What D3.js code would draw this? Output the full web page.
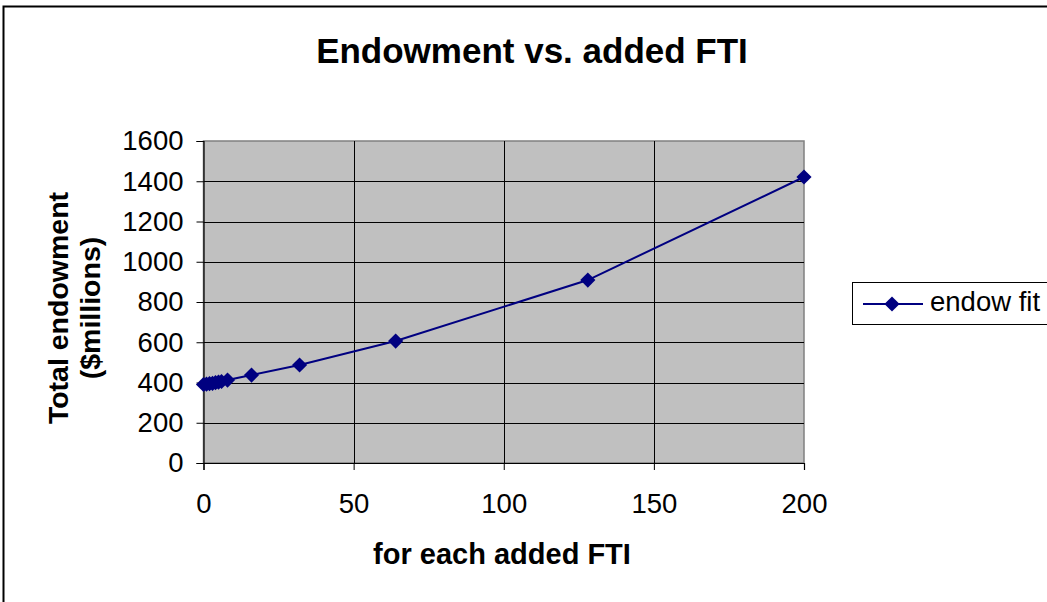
<!DOCTYPE html>
<html><head><meta charset="utf-8">
<script src="https://cdn.jsdelivr.net/npm/d3@7"></script>
<style>body{margin:0;background:#fff}svg{display:block}</style>
</head><body>
<script>
const fti = [0, 1, 2, 3, 4, 5, 6, 8, 16, 32, 64, 128, 200];
const endow = [390, 392, 394, 396, 399, 402, 405, 412, 437, 487, 606, 909, 1421];
const xTicks = [0, 50, 100, 150, 200];
const yTicks = [0, 200, 400, 600, 800, 1000, 1200, 1400, 1600];
const seriesName = "endow fit";

const W = 1047, H = 602;
const svg = d3.select("body").append("svg").attr("width", W).attr("height", H);
svg.append("rect").attr("x", 3.5).attr("y", 6.5).attr("width", W + 10).attr("height", H + 10)
  .attr("fill", "#fff").attr("stroke", "#000").attr("stroke-width", 2);

const L = 203.5, R = 804, T = 141, B = 463;
const x = d3.scaleLinear().domain([0, 200]).range([L, R]);
const y = d3.scaleLinear().domain([0, 1600]).range([B, T]);
const font = "Arial, 'Liberation Sans', sans-serif";

svg.append("rect").attr("x", L).attr("y", T).attr("width", R - L).attr("height", B - T)
  .attr("fill", "#c0c0c0").attr("stroke", "#808080").attr("stroke-width", 1.5);

const g = svg.append("g");
g.selectAll(".hg").data(yTicks.slice(1, -1)).join("line")
  .attr("x1", L).attr("x2", R).attr("y1", d => Math.round(y(d)) + 0.5).attr("y2", d => Math.round(y(d)) + 0.5)
  .attr("stroke", "#000").attr("stroke-width", 1);
g.selectAll(".vg").data(xTicks.slice(1, -1)).join("line")
  .attr("y1", T).attr("y2", B).attr("x1", d => Math.round(x(d)) + 0.5).attr("x2", d => Math.round(x(d)) + 0.5)
  .attr("stroke", "#000").attr("stroke-width", 1);

const yAxis = svg.append("g").attr("transform", `translate(${L},0)`)
  .call(d3.axisLeft(y).tickValues(yTicks).tickFormat(d3.format("d")).tickSize(7).tickPadding(13));
const xAxis = svg.append("g").attr("transform", `translate(0,${B})`)
  .call(d3.axisBottom(x).tickValues(xTicks).tickFormat(d3.format("d")).tickSize(7).tickPadding(23));
[yAxis, xAxis].forEach(a => {
  a.selectAll("path").attr("stroke", "#000").attr("stroke-width", 1.2);
  a.selectAll("line").attr("stroke", "#000");
  a.selectAll("text").attr("font-family", font).attr("font-size", 27.5).attr("fill", "#000");
});

const line = d3.line().x((d, i) => x(fti[i])).y(d => y(d));
svg.append("path").datum(endow).attr("d", line).attr("fill", "none")
  .attr("stroke", "#000080").attr("stroke-width", 2);
const sq = d3.symbol().type(d3.symbolSquare).size(115);
svg.selectAll(".pt").data(endow).join("path")
  .attr("d", sq).attr("transform", (d, i) => `translate(${x(fti[i])},${y(d)}) rotate(45)`)
  .attr("fill", "#000080");

svg.append("text").attr("x", 532).attr("y", 63).attr("text-anchor", "middle")
  .attr("font-family", font).attr("font-weight", "bold").attr("font-size", 35).text("Endowment vs. added FTI");
svg.append("text").attr("x", 502).attr("y", 564).attr("text-anchor", "middle")
  .attr("font-family", font).attr("font-weight", "bold").attr("font-size", 29).text("for each added FTI");
const yl = svg.append("text").attr("transform", "translate(0,308) rotate(-90)").attr("text-anchor", "middle")
  .attr("font-family", font).attr("font-weight", "bold").attr("font-size", 28.5);
yl.append("tspan").attr("x", 0).attr("y", 68).text("Total endowment");
yl.append("tspan").attr("x", 0).attr("y", 100).text("($millions)");

const lg = svg.append("g");
lg.append("rect").attr("x", 852.5).attr("y", 282.5).attr("width", 210).attr("height", 42)
  .attr("fill", "#fff").attr("stroke", "#000").attr("stroke-width", 1);
lg.append("line").attr("x1", 863).attr("x2", 923).attr("y1", 304).attr("y2", 304)
  .attr("stroke", "#000080").attr("stroke-width", 2);
lg.append("path").attr("d", sq()).attr("transform", "translate(892,304) rotate(45)").attr("fill", "#000080");
lg.append("text").attr("x", 930).attr("y", 311).attr("font-family", font).attr("font-size", 27.5).text(seriesName);
</script>
</body></html>
